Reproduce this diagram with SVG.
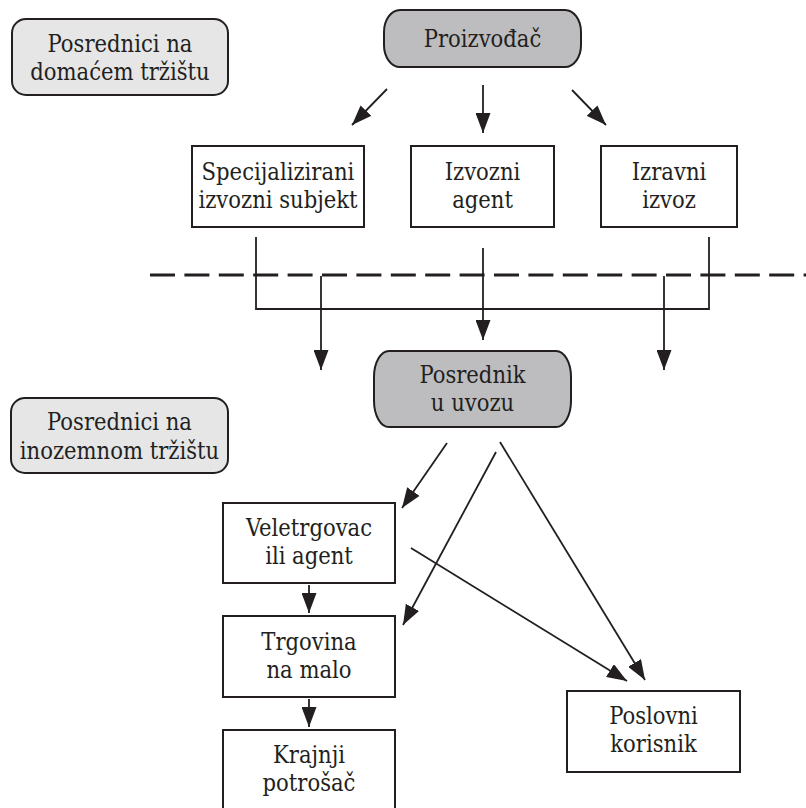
<svg xmlns="http://www.w3.org/2000/svg" width="806" height="808" viewBox="0 0 806 808">
<defs>
<marker id="ah" markerUnits="userSpaceOnUse" markerWidth="22" markerHeight="15" refX="20" refY="7.5" orient="auto">
<path d="M0,0 L20,7.5 L0,15 z" fill="#231f20"/>
</marker>
<style>
.box{fill:#fff;stroke:#231f20;stroke-width:2}
.dark{fill:#bdbdbf;stroke:#231f20;stroke-width:2}
.light{fill:#e6e6e7;stroke:#231f20;stroke-width:2}
text{font-family:'DejaVu Serif',serif;font-stretch:condensed;font-size:23.5px;fill:#231f20;text-anchor:middle}
.c{fill:none;stroke:#231f20;stroke-width:1.8}
.a{fill:none;stroke:#231f20;stroke-width:1.8;marker-end:url(#ah)}
</style>
</defs>
<rect width="806" height="808" fill="#fff"/>

<g id="lbl-domace">
<rect class="light" x="12" y="19" width="216" height="76" rx="14" ry="14"/>
<text x="120" y="52">Posrednici na</text>
<text x="120" y="80">domaćem tržištu</text>
</g>

<g id="proizvodac">
<rect class="dark" x="384" y="10" width="197" height="57" rx="16" ry="22"/>
<text x="482.5" y="47">Proizvođač</text>
</g>

<g id="specijalizirani">
<rect class="box" x="192" y="146" width="172" height="81"/>
<text x="278" y="180">Specijalizirani</text>
<text x="278" y="208">izvozni subjekt</text>
</g>

<g id="izvozni-agent">
<rect class="box" x="411" y="146" width="143" height="81"/>
<text x="482.5" y="180">Izvozni</text>
<text x="482.5" y="208">agent</text>
</g>

<g id="izravni-izvoz">
<rect class="box" x="601" y="146" width="136" height="81"/>
<text x="669" y="180">Izravni</text>
<text x="669" y="208">izvoz</text>
</g>

<g id="posrednik-uvoz">
<rect class="dark" x="374" y="351" width="197" height="76" rx="15" ry="26"/>
<text x="472.5" y="383">Posrednik</text>
<text x="472.5" y="411">u uvozu</text>
</g>

<g id="lbl-inozemno">
<rect class="light" x="11" y="398" width="217" height="75" rx="14" ry="14"/>
<text x="119.5" y="430">Posrednici na</text>
<text x="119.5" y="459">inozemnom tržištu</text>
</g>

<g id="veletrgovac">
<rect class="box" x="223" y="503" width="172" height="80"/>
<text x="309" y="536">Veletrgovac</text>
<text x="309" y="564">ili agent</text>
</g>

<g id="trgovina">
<rect class="box" x="223" y="616" width="172" height="81"/>
<text x="309" y="650">Trgovina</text>
<text x="309" y="678">na malo</text>
</g>

<g id="krajnji">
<rect class="box" x="223" y="730" width="172" height="84"/>
<text x="309" y="763">Krajnji</text>
<text x="309" y="791">potrošač</text>
</g>

<g id="poslovni">
<rect class="box" x="567" y="691" width="173" height="81"/>
<text x="653.5" y="724">Poslovni</text>
<text x="653.5" y="752">korisnik</text>
</g>

<g id="connectors">
<line x1="150" y1="275" x2="806" y2="275" stroke="#231f20" stroke-width="3" stroke-dasharray="25 9.4"/>
<line class="a" x1="387" y1="89" x2="352" y2="125"/>
<line class="a" x1="483" y1="85" x2="483" y2="133"/>
<line class="a" x1="572" y1="90" x2="606" y2="125"/>
<polyline class="c" points="256,237 256,309 709,309 709,237"/>
<line class="a" x1="483" y1="248" x2="483" y2="340"/>
<line class="a" x1="321" y1="276" x2="321" y2="370"/>
<line class="a" x1="664" y1="276" x2="664" y2="370"/>
<line class="a" x1="447" y1="443" x2="402" y2="508"/>
<line class="a" x1="496" y1="452" x2="403" y2="625"/>
<line class="a" x1="500" y1="442" x2="645" y2="680"/>
<line class="a" x1="411" y1="548" x2="627" y2="681"/>
<line class="a" x1="309" y1="585" x2="309" y2="613"/>
<line class="a" x1="309" y1="699" x2="309" y2="727"/>
</g>
</svg>
